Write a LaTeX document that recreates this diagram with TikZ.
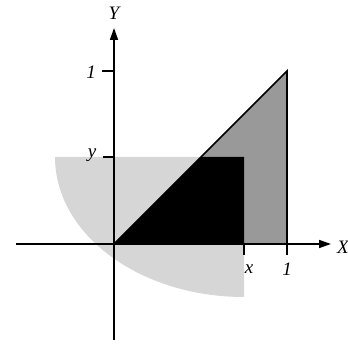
\documentclass[tikz,border=0pt]{standalone}
\usepackage{fontspec}
\setmainfont{Liberation Serif}
\usetikzlibrary{arrows.meta}
\begin{document}
\begin{tikzpicture}[x=1pt,y=1pt,
  axisline/.style={line width=1.6pt,-{Triangle[length=12pt,width=8pt]}},
  tickline/.style={line width=1.6pt},
  lbl/.style={font=\fontsize{19}{19}\selectfont\itshape, inner sep=0pt},
  lightfill/.style={fill=black!16},
  darkfill/.style={fill=black!40}]
\useasboundingbox (0,0) rectangle (348,344);
\coordinate (O) at (114,100);
\coordinate (P) at (244,187);
\coordinate (Q) at (287,273);
\coordinate (R) at (287,100);
\coordinate (Xb) at (244,100);
\coordinate (H) at (201,187);
% light elliptical region
\fill[lightfill] (55,187) -- (P) -- (244,47) arc[start angle=270, end angle=180, x radius=189pt, y radius=140pt] -- cycle;
% dark triangle
\fill[darkfill] (O) -- (Q) -- (R) -- cycle;
% black region
\fill[black] (O) -- (H) -- (P) -- (Xb) -- cycle;
\draw[line width=1.6pt, line join=miter] (O) -- (Q) -- (R);
% axes
\coordinate (xa) at (16,100);
\coordinate (xb) at (331,100);
\coordinate (ya) at (114,4);
\coordinate (yb) at (114,316);
\draw[axisline] (xa) -- (xb);
\draw[axisline] (ya) -- (yb);
% ticks
\coordinate (t1a) at (102,273); \coordinate (t1b) at (114,273);
\coordinate (t2a) at (103,187); \coordinate (t2b) at (114,187);
\coordinate (t3b) at (244,89);
\coordinate (t4b) at (287,89);
\draw[tickline] (t1a) -- (t1b);
\draw[tickline] (t2a) -- (t2b);
\draw[tickline] (Xb) -- (t3b);
\draw[tickline] (R) -- (t4b);
% labels
\node[lbl] (Ylab) at (114,331) {Y};
\node[lbl, anchor=west] (Xlab) at (337,97) {X};
\node[lbl] (one1) at (91,272) {1};
\node[lbl] (ylab) at (92,189) {y};
\node[lbl] (xlab) at (249,75) {x};
\node[lbl] (one2) at (287,75) {1};
\end{tikzpicture}
\end{document}
